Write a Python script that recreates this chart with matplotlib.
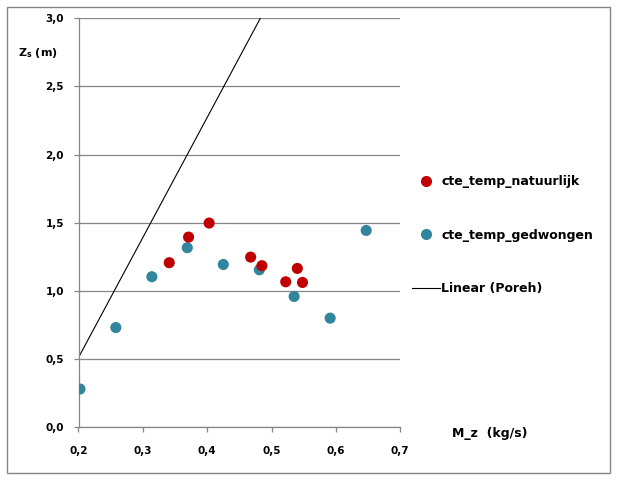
import matplotlib
matplotlib.use('Agg')
import matplotlib.pyplot as plt
import matplotlib.patches as mpatches
from matplotlib.ticker import FuncFormatter
from matplotlib.lines import Line2D

# data
nat_x = [0.341, 0.371, 0.403, 0.4675, 0.485, 0.540, 0.522, 0.548]
nat_y = [1.206, 1.394, 1.497, 1.247, 1.184, 1.164, 1.066, 1.061]

ged_x = [0.2023, 0.258, 0.314, 0.369, 0.425, 0.481, 0.535, 0.591, 0.647]
ged_y = [0.279, 0.730, 1.103, 1.316, 1.193, 1.154, 0.958, 0.799, 1.443]

poreh_x = [0.2023, 0.4825]
poreh_y = [0.53, 3.0]

labels = ['cte_temp_natuurlijk', 'cte_temp_gedwongen', 'Linear (Poreh)']

red = '#C00000'
teal = '#31859C'
grey = '#868686'
font = 'DejaVu Sans'

fig = plt.figure(figsize=(6.17, 4.82), dpi=100)
ax = fig.add_axes([78.5 / 617, 1 - 427 / 482, 321.8 / 617, 408.7 / 482])

ax.plot(poreh_x, poreh_y, color='black', lw=0.8, zorder=2)
ax.scatter(ged_x, ged_y, s=64, color=teal, edgecolors='none', zorder=3)
ax.scatter(nat_x, nat_y, s=64, color=red, edgecolors='none', zorder=3)

ax.set_xlim(0.2, 0.7)
ax.set_ylim(0, 3.0)
ax.set_xticks([0.2, 0.3, 0.4, 0.5, 0.6, 0.7])
ax.set_yticks([0, 0.5, 1.0, 1.5, 2.0, 2.5, 3.0])
comma = FuncFormatter(lambda v, p: ('%.1f' % v).replace('.', ','))
ax.xaxis.set_major_formatter(comma)
ax.yaxis.set_major_formatter(comma)
ax.yaxis.grid(True, color=grey, lw=0.9)
ax.set_axisbelow(True)
for s in ['top', 'right']:
    ax.spines[s].set_visible(False)
for s in ['left', 'bottom']:
    ax.spines[s].set_color(grey)
    ax.spines[s].set_linewidth(0.9)
ax.tick_params(axis='both', colors=grey, length=3.5, width=0.9, labelcolor='black',
               labelsize=7.5)
ax.tick_params(axis='x', pad=10)
ax.tick_params(axis='y', pad=7)
for t in ax.get_xticklabels() + ax.get_yticklabels():
    t.set_fontweight('bold')
    t.set_family(font)

fig.text(18 / 617, 1 - 53 / 482, r'Z$_\mathregular{s}$ (m)', fontsize=8,
         fontweight='bold', family=font, va='center', ha='left')
fig.text(452 / 617, 1 - 434 / 482, 'M_\u1d22  (kg/s)', fontsize=9,
         fontweight='bold', family=font, va='center', ha='left')

handles = [
    Line2D([], [], ls='none', marker='o', ms=8, color=red, mec='none'),
    Line2D([], [], ls='none', marker='o', ms=8, color=teal, mec='none'),
    Line2D([], [], color='black', lw=0.8),
]
leg = fig.legend(handles, labels, loc='upper left', bbox_to_anchor=(401 / 617, 1 - 164 / 482),
                 frameon=False, labelspacing=3.23, handlelength=2.2, handletextpad=0.1,
                 prop={'family': font, 'weight': 'bold', 'size': 9})

fig.patches.append(mpatches.Rectangle((7 / 617, 1 - 473 / 482), 603 / 617, 466 / 482,
                                      transform=fig.transFigure, fill=False,
                                      edgecolor=grey, lw=1))

fig.savefig('out.png', dpi=100)
